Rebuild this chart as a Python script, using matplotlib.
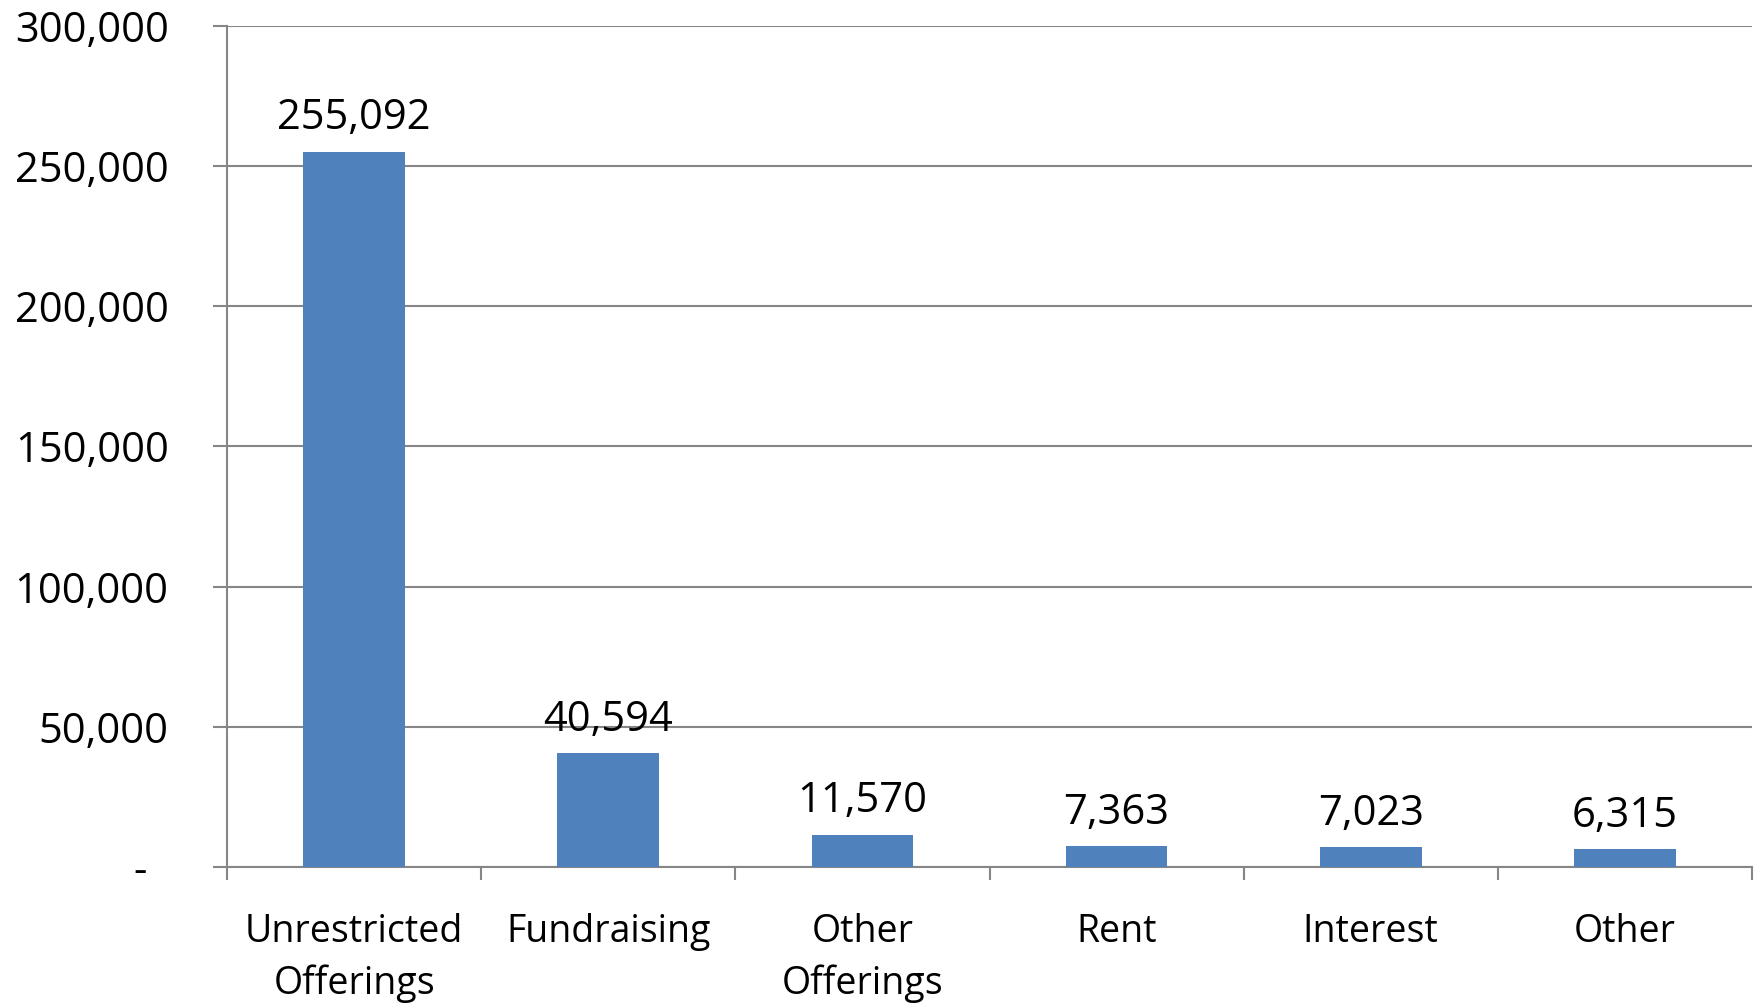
import matplotlib.pyplot as plt
from matplotlib.ticker import FuncFormatter

categories = ["Unrestricted\nOfferings", "Fundraising", "Other\nOfferings", "Rent", "Interest", "Other"]
values = [255092, 40594, 11570, 7363, 7023, 6315]
y_ticks = [0, 50000, 100000, 150000, 200000, 250000, 300000]

plt.rcParams['font.family'] = ['Open Sans', 'DejaVu Sans']

fig = plt.figure(figsize=(17.56, 10.08), dpi=100)
ax = fig.add_axes([0.1293, 0.1399, 0.8684, 0.8343])

x = list(range(len(categories)))
bars = ax.bar(x, values, width=0.40, color='#4F81BD', zorder=3)

for xi, v in zip(x, values):
    ax.annotate(f"{v:,}", (xi, v), xytext=(0, 9), textcoords='offset points',
                ha='center', va='bottom', fontsize=30)

ax.set_xlim(-0.5, len(categories) - 0.5)
ax.set_ylim(0, 300000)
ax.set_yticks(y_ticks)
ax.yaxis.set_major_formatter(FuncFormatter(lambda v, p: "-  " if v == 0 else f"{int(v):,}"))
ax.grid(axis='y', color='#868686', linewidth=1.5, zorder=0)

# category labels centred, tick marks on the boundaries
ax.set_xticks(x)
ax.set_xticklabels(categories, fontsize=27, linespacing=1.45)
ax.set_xticks([i - 0.5 for i in range(len(categories) + 1)], minor=True)
ax.tick_params(axis='x', which='major', length=0, pad=33)
ax.tick_params(axis='x', which='minor', length=9, width=1.5, color='#868686')
ax.tick_params(axis='y', length=10, width=1.5, color='#868686', labelsize=30, pad=32)

for s in ['top', 'right']:
    ax.spines[s].set_visible(False)
for s in ['left', 'bottom']:
    ax.spines[s].set_color('#868686')
    ax.spines[s].set_linewidth(1.5)

fig.savefig('out.png', dpi=100)
